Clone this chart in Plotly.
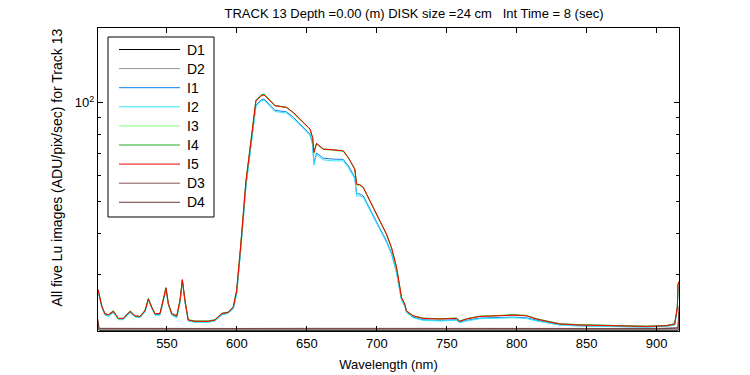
import math
import plotly.graph_objects as go

# ---------------- data ----------------
wavelength = [500.7, 503.4, 505.7, 508.1, 511.7, 515.2, 518.8, 523.6, 527.2, 530.7,
              534.3, 536.7, 539.1, 541.5, 545.0, 547.4, 549.3, 551.0, 553.4, 557.0,
              559.3, 561.0, 562.9, 565.2, 570.0, 579.5, 584.3, 589.1, 593.8, 597.4,
              599.8, 602.6, 604.6, 606.5, 609.3, 611.6, 613.6, 617.6, 619.5, 623.6,
              627.2, 635.5, 640.3, 643.8, 648.6, 652.2, 654.1, 655.0, 656.9, 661.6,
              668.8, 676.0, 679.6, 684.3, 685.5, 687.9, 690.3, 693.8, 697.4, 702.2,
              706.9, 710.5, 714.1, 716.5, 717.6, 720.0, 721.2, 726.0, 733.1, 745.0,
              756.9, 759.3, 764.1, 773.6, 785.5, 797.4, 806.9, 814.1, 821.2, 830.7,
              845.0, 868.8, 892.6, 906.9, 912.9, 914.8, 915.3, 916.0]

I1 = [26.8, 23.9, 22.6, 22.4, 23.0, 21.9, 21.9, 23.0, 22.3, 22.2,
      23.1, 25.1, 23.7, 22.6, 22.6, 24.7, 27.0, 24.3, 22.6, 22.2,
      24.7, 28.7, 24.7, 21.7, 21.5, 21.5, 21.7, 22.6, 22.9, 23.6,
      26.2, 35.3, 43.8, 56.0, 70.0, 84.5, 98.3, 102.3, 102.6, 98.3,
      94.8, 93.8, 90.3, 87.2, 83.2, 80.2, 75.3, 65.5, 70.3, 67.8,
      67.3, 67.2, 64.2, 59.2, 52.8, 52.7, 52.0, 48.5, 45.5, 41.4,
      37.9, 34.8, 30.5, 26.8, 25.1, 24.0, 23.0, 22.2, 21.8, 21.7,
      21.8, 21.4, 21.7, 22.05, 22.1, 22.2, 22.1, 21.7, 21.4, 21.05,
      20.9, 20.8, 20.72, 20.82, 21.05, 23.6, 27.7, 28.2]

I2 = [26.6, 23.8, 22.5, 22.3, 22.9, 21.8, 21.8, 22.9, 22.2, 22.1,
      23.0, 25.0, 23.6, 22.5, 22.5, 24.6, 26.9, 24.2, 22.5, 22.1,
      24.6, 28.6, 24.6, 21.6, 21.4, 21.4, 21.6, 22.5, 22.8, 23.5,
      26.0, 35.0, 43.5, 55.5, 69.5, 84.0, 97.5, 101.5, 101.8, 97.5,
      94.0, 93.0, 89.5, 86.5, 82.5, 79.5, 74.5, 64.5, 69.5, 67.0,
      66.5, 66.5, 63.5, 58.5, 52.0, 52.0, 51.5, 48.0, 45.0, 41.0,
      37.5, 34.5, 30.2, 26.6, 25.0, 23.9, 22.9, 22.1, 21.7, 21.6,
      21.7, 21.35, 21.6, 21.95, 22.0, 22.1, 22.0, 21.6, 21.35, 21.0,
      20.85, 20.75, 20.7, 20.8, 21.0, 23.5, 27.5, 28.0]

I3 = [26.9, 24.1, 22.7, 22.5, 23.2, 21.9, 22.0, 23.2, 22.4, 22.3,
      23.3, 25.4, 23.8, 22.7, 22.8, 25.0, 27.4, 24.4, 22.8, 22.4,
      25.0, 28.7, 24.8, 21.8, 21.6, 21.6, 21.8, 22.8, 23.0, 23.9,
      26.8, 36.4, 44.9, 58.0, 72.3, 87.4, 101.8, 105.6, 106.0, 101.6,
      98.2, 96.9, 93.2, 90.0, 85.8, 83.0, 78.0, 70.0, 74.8, 72.0,
      71.6, 71.0, 67.8, 62.5, 56.0, 56.0, 55.0, 51.2, 47.8, 43.5,
      39.6, 36.0, 31.3, 27.2, 25.4, 24.2, 23.2, 22.4, 22.0, 21.9,
      22.05, 21.6, 21.95, 22.35, 22.4, 22.55, 22.45, 21.95, 21.6, 21.2,
      21.05, 20.9, 20.85, 20.95, 21.2, 23.7, 27.8, 28.3]

I4 = [26.9, 24.0, 22.7, 22.6, 23.2, 22.0, 22.0, 23.2, 22.4, 22.3,
      23.3, 25.3, 23.8, 22.7, 22.8, 25.0, 27.3, 24.4, 22.8, 22.4,
      25.0, 28.8, 24.9, 21.8, 21.6, 21.6, 21.8, 22.8, 23.0, 23.9,
      26.8, 36.3, 44.8, 57.9, 72.2, 87.3, 101.9, 105.8, 106.2, 101.8,
      98.1, 96.8, 93.3, 90.2, 86.0, 83.2, 78.2, 70.4, 75.2, 72.3,
      71.9, 71.3, 68.0, 62.6, 56.4, 56.3, 55.2, 51.4, 48.0, 43.6,
      39.7, 36.1, 31.4, 27.3, 25.5, 24.3, 23.2, 22.4, 22.05, 21.95,
      22.05, 21.6, 21.95, 22.35, 22.4, 22.6, 22.45, 21.95, 21.6, 21.2,
      21.05, 20.92, 20.82, 20.92, 21.18, 23.8, 28.0, 28.5]

I5 = [27.0, 24.0, 22.7, 22.6, 23.1, 22.0, 22.0, 23.1, 22.4, 22.3,
      23.2, 25.2, 23.8, 22.75, 22.75, 24.9, 27.2, 24.4, 22.75, 22.4,
      24.9, 28.9, 24.9, 21.75, 21.55, 21.55, 21.75, 22.75, 22.95, 23.8,
      26.7, 36.2, 44.7, 57.8, 72.0, 87.0, 101.4, 105.0, 105.6, 101.4,
      97.9, 96.7, 93.4, 90.2, 86.1, 83.2, 78.4, 70.6, 75.1, 72.2,
      71.8, 71.4, 68.1, 62.8, 56.5, 56.2, 55.2, 51.4, 48.0, 43.7,
      39.8, 36.2, 31.5, 27.35, 25.5, 24.3, 23.2, 22.4, 22.0, 21.9,
      22.0, 21.55, 21.9, 22.3, 22.35, 22.5, 22.4, 21.9, 21.55, 21.15,
      21.0, 20.9, 20.8, 20.9, 21.15, 23.8, 28.0, 28.5]

dark_wavelength = [500.7, 501.3, 502.0, 520.0, 560.0, 600.0, 650.0, 700.0,
                   750.0, 800.0, 850.0, 900.0, 915.3, 916.0]
D1 = [20.9, 20.3, 20.22, 20.22, 20.23, 20.22, 20.22, 20.23, 20.22, 20.22, 20.23, 20.22, 20.25, 20.6]
D2 = [21.2, 20.4, 20.3, 20.3, 20.32, 20.3, 20.31, 20.3, 20.32, 20.3, 20.3, 20.31, 20.35, 21.0]
D3 = [21.9, 20.7, 20.52, 20.5, 20.53, 20.5, 20.52, 20.5, 20.52, 20.5, 20.51, 20.5, 20.6, 24.0]
D4 = [21.5, 20.6, 20.45, 20.44, 20.46, 20.44, 20.45, 20.44, 20.46, 20.44, 20.45, 20.44, 20.55, 23.0]

series_names = ["D1", "D2", "I1", "I2", "I3", "I4", "I5", "D3", "D4"]
series_x = {"D1": dark_wavelength, "D2": dark_wavelength, "D3": dark_wavelength, "D4": dark_wavelength,
            "I1": wavelength, "I2": wavelength, "I3": wavelength, "I4": wavelength, "I5": wavelength}
series_y = {"D1": D1, "D2": D2, "I1": I1, "I2": I2, "I3": I3, "I4": I4, "I5": I5, "D3": D3, "D4": D4}
colors = {"D1": "#000000", "D2": "#999999", "I1": "#0A80F0", "I2": "#30E8F8",
          "I3": "#80FF80", "I4": "#1EAA1E", "I5": "#FF0000", "D3": "#8A5555", "D4": "#6E3C3C"}

x_ticks = [550, 600, 650, 700, 750, 800, 850, 900]
y_major = [100]
y_major_text = ["10<sup>2</sup>"]
y_minor = [30, 40, 50, 60, 70, 80, 90]

title_text = "TRACK 13 Depth =0.00 (m) DISK size =24 cm\u00a0\u00a0 Int Time = 8 (sec)"
ylabel = "All five Lu images (ADU/pix/sec) for Track 13"
xlabel = "Wavelength (nm)"

# ---------------- layout geometry ----------------
# the page body margin is removed by a post script, so the figure starts at (0, 0)
W, H = 750, 375
# plot frame, in window pixels
FL, FR, FT, FB = 98, 679, 28, 331
ML, MT = FL, FT
MR, MB = W - FR, H - FB
PW, PH = FR - FL, FB - FT
FONT = "Liberation Sans, Arial, sans-serif"


def px_x(px):
    return (px - FL) / PW


def px_y(py):
    return (FB - py) / PH


fig = go.Figure()
for name in series_names:
    fig.add_trace(go.Scatter(x=series_x[name], y=series_y[name], mode="lines", name=name,
                             line=dict(color=colors[name], width=1), showlegend=False,
                             hoverinfo="skip"))

# custom legend (box, sample lines, labels)
shapes = [dict(type="rect", xref="paper", yref="paper", x0=px_x(108), x1=px_x(214),
               y0=px_y(217), y1=px_y(37), line=dict(color="black", width=1),
               fillcolor="white", layer="above")]
annotations = []
for i, name in enumerate(series_names):
    py = 49.5 + 19.1 * i
    shapes.append(dict(type="line", xref="paper", yref="paper", x0=px_x(119), x1=px_x(180),
                       y0=px_y(py), y1=px_y(py), line=dict(color=colors[name], width=1),
                       layer="above"))
    annotations.append(dict(text=name, xref="paper", yref="paper", x=px_x(185), y=px_y(py),
                            xanchor="left", yanchor="middle", showarrow=False,
                            font=dict(family=FONT, size=14, color="black")))

annotations.append(dict(text=ylabel, xref="paper", yref="paper", x=px_x(56), y=px_y(167.5),
                        xanchor="center", yanchor="middle", textangle=-90, showarrow=False,
                        font=dict(family=FONT, size=14, color="black")))

fig.update_layout(
    width=W, height=H, margin=dict(l=ML, r=MR, t=MT, b=MB, autoexpand=False),
    paper_bgcolor="white", plot_bgcolor="white",
    font=dict(family=FONT, size=12, color="black"),
    title=dict(text=title_text, x=px_x(414), xref="paper", xanchor="center",
               y=1 - 13.0 / H, yref="container", yanchor="middle",
               font=dict(family=FONT, size=13, color="black")),
    shapes=shapes, annotations=annotations,
    xaxis=dict(range=[500.7, 916.0], tickmode="array", tickvals=x_ticks,
               ticks="inside", ticklen=5, tickcolor="black", showgrid=False, zeroline=False,
               showline=True, linecolor="black", linewidth=1, mirror="ticks",
               tickfont=dict(family=FONT, size=13),
               title=dict(text=xlabel, standoff=10, font=dict(family=FONT, size=13))),
    yaxis=dict(type="log", range=[math.log10(20.14), math.log10(169.0)], tickmode="array",
               tickvals=y_major, ticktext=y_major_text, ticks="inside", ticklen=5,
               tickcolor="black", showgrid=False, zeroline=False, showline=True,
               linecolor="black", linewidth=1, mirror="ticks",
               tickfont=dict(family=FONT, size=13),
               minor=dict(tickmode="array", tickvals=y_minor, ticks="inside", ticklen=3,
                          tickcolor="black", showgrid=False)),
)

fig.write_html("out.html", config={"displayModeBar": False},
               post_script="document.body.style.margin='0';")
